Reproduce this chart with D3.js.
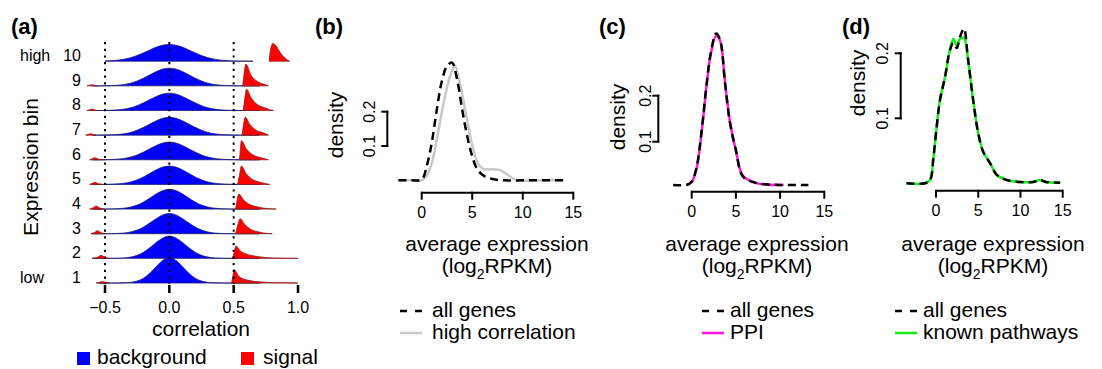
<!DOCTYPE html>
<html>
<head>
<meta charset="utf-8">
<script src="https://cdn.jsdelivr.net/npm/d3@7/dist/d3.min.js"></script>
<style>
    body { margin: 0; background: #fff; }
    text { font-family: "Liberation Sans", Arial, Helvetica, sans-serif; fill: #000; }
</style>
</head>
<body>
<svg id="chart" width="1102" height="369"></svg>
<script>
    // ---- panel (a): correlation densities per expression bin ----
    var expressionBins = [1, 2, 3, 4, 5, 6, 7, 8, 9, 10];
    var binEndLabels = ['low', 'high'];
    var corrTicks = [-0.5, 0, 0.5, 1.0];
    var corrTickLabels = ['\u22120.5', '0.0', '0.5', '1.0'];
    var corrGuides = [-0.5, 0, 0.5];

    // grid for background densities (-0.6 .. 0.7 by 0.05)
    var corrGrid = [-0.6, -0.55, -0.5, -0.45, -0.4, -0.35, -0.3, -0.25, -0.2, -0.15, -0.1, -0.05, 0,
        0.05, 0.1, 0.15, 0.2, 0.25, 0.3, 0.35, 0.4, 0.45, 0.5, 0.55, 0.6, 0.65, 0.7];

    var backgroundDensity = [
        [null, 0, 0, 0, 0, 0.02, 0.09, 0.28, 0.70, 1.43, 2.40, 3.27, 3.63, 3.27, 2.40, 1.43, 0.70, 0.28, 0.09, 0.02, 0, 0, 0, 0, 0, 0, 0],
        [0, 0, 0, 0, 0.02, 0.06, 0.18, 0.43, 0.89, 1.55, 2.32, 2.94, 3.21, 2.94, 2.32, 1.55, 0.89, 0.43, 0.18, 0.06, 0.02, 0, 0, 0, 0, 0, 0],
        [0, 0, 0, 0.01, 0.04, 0.10, 0.25, 0.52, 0.97, 1.57, 2.20, 2.71, 2.90, 2.71, 2.20, 1.57, 0.97, 0.52, 0.25, 0.10, 0.04, 0.01, 0, 0, 0, 0, 0],
        [0, 0, 0, 0.02, 0.05, 0.13, 0.29, 0.57, 1.02, 1.60, 2.20, 2.66, 2.84, 2.66, 2.20, 1.60, 1.02, 0.57, 0.29, 0.13, 0.05, 0.02, 0, 0, 0, 0, 0],
        [0, 0, 0.01, 0.03, 0.08, 0.18, 0.36, 0.66, 1.08, 1.60, 2.12, 2.50, 2.64, 2.50, 2.12, 1.60, 1.08, 0.66, 0.36, 0.18, 0.08, 0.03, 0.01, 0, 0, 0, 0],
        [0, 0, 0.01, 0.04, 0.09, 0.20, 0.39, 0.70, 1.11, 1.60, 2.07, 2.42, 2.55, 2.42, 2.07, 1.60, 1.11, 0.70, 0.39, 0.20, 0.09, 0.04, 0.01, 0, 0, 0, 0],
        [0, 0, 0.01, 0.04, 0.09, 0.20, 0.39, 0.71, 1.12, 1.61, 2.08, 2.43, 2.56, 2.43, 2.08, 1.61, 1.12, 0.71, 0.39, 0.20, 0.09, 0.04, 0.01, 0, 0, 0, 0],
        [0, 0, 0.01, 0.04, 0.09, 0.20, 0.39, 0.70, 1.10, 1.58, 2.03, 2.37, 2.50, 2.37, 2.03, 1.58, 1.10, 0.70, 0.39, 0.20, 0.09, 0.04, 0.01, 0, 0, 0, 0],
        [0, 0, 0.01, 0.04, 0.09, 0.20, 0.39, 0.70, 1.11, 1.60, 2.07, 2.42, 2.55, 2.42, 2.07, 1.60, 1.11, 0.70, 0.39, 0.20, 0.09, 0.04, 0.01, 0, 0, 0, 0],
        [null, null, 0.03, 0.07, 0.15, 0.29, 0.51, 0.82, 1.21, 1.63, 2.03, 2.31, 2.41, 2.31, 2.03, 1.63, 1.21, 0.82, 0.51, 0.29, 0.15, 0.07, 0.03, 0.01, 0, 0, null]
    ];

    // signal densities: small bump near -0.55 and the peak just above 0.5
    var signalBump = [
        [[-0.57, 0], [-0.545, 0.08], [-0.52, 0.2], [-0.495, 0.08], [-0.47, 0]],
        [[-0.6, 0], [-0.56, 0.15], [-0.53, 0.43], [-0.5, 0.15], [-0.47, 0]],
        [[-0.61, 0], [-0.58, 0.2], [-0.56, 0.43], [-0.53, 0.15], [-0.5, 0]],
        [[-0.62, 0], [-0.59, 0.2], [-0.57, 0.43], [-0.54, 0.15], [-0.51, 0]],
        [[-0.62, 0], [-0.6, 0.15], [-0.58, 0.3], [-0.55, 0.1], [-0.52, 0]],
        [[-0.62, 0], [-0.6, 0.15], [-0.58, 0.3], [-0.55, 0.1], [-0.52, 0]],
        [[-0.65, 0], [-0.63, 0.12], [-0.61, 0.2], [-0.59, 0.08], [-0.57, 0]],
        [[-0.64, 0], [-0.62, 0.12], [-0.6, 0.2], [-0.58, 0.08], [-0.56, 0]],
        [[-0.64, 0], [-0.62, 0.1], [-0.6, 0.15], [-0.58, 0.06], [-0.56, 0]],
        []
    ];
    var signalPeak = [
        [[0.484, 0], [0.494, 1.0], [0.504, 1.92], [0.54, 0.96], [0.58, 0.55], [0.62, 0.38], [0.67, 0.2], [0.72, 0.15], [0.8, 0.05], [0.9, 0.02], [1.0, 0]],
        [[0.49, 0], [0.505, 0.9], [0.517, 1.77], [0.55, 1.1], [0.6, 0.6], [0.65, 0.38], [0.7, 0.22], [0.75, 0.12], [0.8, 0.06], [0.9, 0.02], [1.0, 0]],
        [[0.515, 0], [0.53, 1.1], [0.55, 2.16], [0.585, 1.35], [0.63, 0.65], [0.68, 0.32], [0.73, 0.12], [0.8, 0]],
        [[0.515, 0], [0.525, 1.1], [0.54, 2.16], [0.575, 1.35], [0.625, 0.65], [0.68, 0.33], [0.73, 0.14], [0.78, 0.05], [0.83, 0]],
        [[0.53, 0], [0.545, 1.3], [0.56, 2.64], [0.595, 1.6], [0.646, 0.72], [0.70, 0.34], [0.75, 0.1], [0.78, 0]],
        [[0.545, 0], [0.552, 1.4], [0.56, 2.78], [0.595, 1.67], [0.645, 0.75], [0.70, 0.36], [0.75, 0.1], [0.77, 0]],
        [[0.565, 0], [0.575, 1.3], [0.59, 2.59], [0.625, 1.55], [0.675, 0.7], [0.73, 0.34], [0.77, 0]],
        [[0.575, 0], [0.585, 1.5], [0.6, 3.07], [0.635, 1.84], [0.685, 0.83], [0.74, 0.4], [0.78, 0.12], [0.81, 0]],
        [[0.57, 0], [0.58, 1.6], [0.595, 3.13], [0.633, 1.58], [0.685, 0.63], [0.736, 0.22], [0.77, 0]],
        [[0.775, 0], [0.79, 2.0], [0.805, 2.55], [0.83, 2.2], [0.86, 1.3], [0.89, 0.6], [0.92, 0.15], [0.935, 0]]
    ];

    // ---- panels (b)-(d): expression densities ----
    var exprTicks = [0, 5, 10, 15];
    var densityTicks = [0.1, 0.2];

    var allGenesB = [[-2.3, 0], [-1, 0], [0, 0.002], [0.5, 0.042], [1, 0.11], [1.5, 0.207], [2, 0.29], [2.5, 0.333],
        [3, 0.343], [3.5, 0.294], [4, 0.207], [4.5, 0.129], [5, 0.07], [5.5, 0.032], [6.2, 0.012], [7, 0.004],
        [8, 0], [10, 0], [12, 0], [14, 0]];
    var highCorrelation = [[-2.3, 0], [-1, 0], [0, 0], [0.5, 0.013], [1, 0.05], [1.5, 0.12], [2, 0.2], [2.5, 0.27],
        [3, 0.32], [3.3, 0.333], [3.6, 0.305], [4.1, 0.236], [4.6, 0.158], [5.1, 0.09], [5.6, 0.047], [6.1, 0.033],
        [7, 0.032], [7.75, 0.03], [8.4, 0.018], [9, 0.006], [9.5, 0], [12, 0], [14, 0]];

    var allGenesC = [[-2.1, 0.006], [-0.6, 0.006], [0, 0.013], [0.56, 0.045], [1.13, 0.125], [1.7, 0.227], [2.15, 0.292],
        [2.75, 0.335], [3.2, 0.322], [3.77, 0.227], [4.33, 0.141], [5, 0.082], [5.8, 0.024], [7.35, 0.01],
        [10, 0.006], [13.2, 0.006]];
    var ppiGenes = [[-0.6, 0.006], [0, 0.012], [0.56, 0.043], [1.13, 0.122], [1.7, 0.225], [2.15, 0.29], [2.75, 0.33],
        [3.2, 0.32], [3.77, 0.229], [4.33, 0.143], [5, 0.08], [5.8, 0.026], [7.35, 0.01], [10.4, 0.006]];

    var allGenesD = [[-3.5, 0], [-1.3, 0], [-0.7, 0.005], [-0.3, 0.04], [0.08, 0.087], [0.47, 0.128], [1.06, 0.163],
        [1.65, 0.205], [2.05, 0.216], [2.45, 0.208], [2.84, 0.225], [3.3, 0.238], [3.8, 0.19], [4.4, 0.128], [5, 0.077],
        [5.6, 0.048], [6.4, 0.031], [7.2, 0.013], [8.4, 0.005], [10, 0.002], [11.5, 0.002], [12.3, 0.005], [13, 0.002], [14.7, 0.001]];
    var knownPathways = [[-3.5, 0], [-1.3, 0], [-0.7, 0.005], [-0.3, 0.04], [0.08, 0.087], [0.47, 0.128], [1.06, 0.163],
        [1.65, 0.205], [2.05, 0.222], [2.45, 0.212], [2.84, 0.222], [3.3, 0.224], [3.8, 0.19], [4.4, 0.128], [5, 0.077],
        [5.6, 0.048], [6.4, 0.031], [7.2, 0.013], [8.4, 0.005], [10, 0.002], [11.5, 0.002], [12.3, 0.005], [13, 0.002], [14.7, 0.001]];

    var svg = d3.select('#chart');
    svg.append('rect').attr('width', 1102).attr('height', 369).attr('fill', '#fff');

    function panelTag(x, y, s) {
        svg.append('text').attr('x', x).attr('y', y)
            .style('font-size', '22px').style('font-weight', 'bold').text(s);
    }

    // ================= panel (a) =================
    panelTag(11, 34, '(a)');

    var xCorr = d3.scaleLinear().domain([-0.5, 1.0]).range([105, 298]);
    var yBin = d3.scaleLinear().domain([1, 10]).range([283, 61.2]);
    var hDens = d3.scaleLinear().domain([0, 3.6]).range([0, 25]);

    var ridges = svg.append('g').attr('class', 'ridges');

    // top rows first so lower rows sit in front
    expressionBins.slice().reverse().forEach(function(bin) {
        var i = bin - 1;
        var base = yBin(bin);
        var area = d3.area()
            .defined(function(d) { return d[1] != null; })
            .x(function(d) { return xCorr(d[0]); })
            .y0(base)
            .y1(function(d) { return base - hDens(d[1]); })
            .curve(d3.curveMonotoneX);

        var bg = corrGrid.map(function(x, k) { return [x, backgroundDensity[i][k]]; });
        ridges.append('path').attr('d', area(bg))
            .attr('fill', '#0000ff').attr('stroke', '#1a1a70').attr('stroke-width', 0.8);

        [signalBump[i], signalPeak[i]].forEach(function(seg) {
            if (!seg.length) return;
            ridges.append('path').attr('d', area(seg))
                .attr('fill', '#ff0000').attr('stroke', '#8a2020').attr('stroke-width', 0.8);
        });

        svg.append('text').attr('x', 81).attr('y', base)
            .attr('text-anchor', 'end').style('font-size', '16px').text(bin);
    });

    svg.append('text').attr('x', 20).attr('y', yBin(1)).style('font-size', '16px').text(binEndLabels[0]);
    svg.append('text').attr('x', 20).attr('y', yBin(10)).style('font-size', '16px').text(binEndLabels[1]);

    svg.append('text')
        .attr('transform', 'translate(38,167) rotate(-90)')
        .attr('text-anchor', 'middle').style('font-size', '21px')
        .text('Expression bin');

    // dotted guides
    svg.selectAll('line.guide').data(corrGuides).enter().append('line')
        .attr('class', 'guide')
        .attr('x1', function(d) { return xCorr(d); }).attr('x2', function(d) { return xCorr(d); })
        .attr('y1', 42).attr('y2', 284)
        .attr('stroke', '#000').attr('stroke-width', 2).attr('stroke-dasharray', '2.2,4.5');

    // tick marks only, no axis line
    svg.selectAll('line.ctick').data(corrTicks).enter().append('line')
        .attr('class', 'ctick')
        .attr('x1', function(d) { return xCorr(d); }).attr('x2', function(d) { return xCorr(d); })
        .attr('y1', 285).attr('y2', 293)
        .attr('stroke', '#000').attr('stroke-width', 2.5);
    svg.selectAll('text.clab').data(corrTicks).enter().append('text')
        .attr('class', 'clab')
        .attr('x', function(d) { return xCorr(d); }).attr('y', 313)
        .attr('text-anchor', 'middle').style('font-size', '16px')
        .text(function(d, k) { return corrTickLabels[k]; });

    svg.append('text').attr('x', 201).attr('y', 336)
        .attr('text-anchor', 'middle').style('font-size', '21px').text('correlation');

    svg.append('rect').attr('x', 77).attr('y', 352).attr('width', 13).attr('height', 13).attr('fill', '#0000ff');
    svg.append('text').attr('x', 97).attr('y', 364).style('font-size', '21px').text('background');
    svg.append('rect').attr('x', 241).attr('y', 352).attr('width', 13).attr('height', 13).attr('fill', '#ff0000');
    svg.append('text').attr('x', 263).attr('y', 364).style('font-size', '21px').text('signal');

    // ================= panels (b)-(d) =================
    function drawExprPanel(cfg) {
        panelTag(cfg.tagX, 34, cfg.tag);

        var x = d3.scaleLinear().domain([0, 15]).range(cfg.xRange);
        var y = d3.scaleLinear().domain([0.1, 0.2]).range(cfg.yRange);
        var g = svg.append('g');

        var line = d3.line()
            .x(function(d) { return x(d[0]); })
            .y(function(d) { return y(d[1]); })
            .curve(d3.curveCatmullRom);

        g.append('path').attr('d', line(cfg.other))
            .attr('fill', 'none').attr('stroke', cfg.color).attr('stroke-width', 2.5);
        g.append('path').attr('d', line(cfg.all))
            .attr('fill', 'none').attr('stroke', '#000').attr('stroke-width', 2.5)
            .attr('stroke-dasharray', '8,5');

        // x axis
        var xAxis = g.append('g').attr('transform', 'translate(0,' + cfg.axisY + ')');
        xAxis.append('line').attr('x1', x(0)).attr('x2', x(15)).attr('stroke', '#000').attr('stroke-width', 2);
        xAxis.selectAll('line.t').data(exprTicks).enter().append('line').attr('class', 't')
            .attr('x1', function(d) { return x(d); }).attr('x2', function(d) { return x(d); })
            .attr('y1', -1).attr('y2', 7).attr('stroke', '#000').attr('stroke-width', 2);
        xAxis.selectAll('text').data(exprTicks).enter().append('text')
            .attr('x', function(d) { return x(d); }).attr('y', 25)
            .attr('text-anchor', 'middle').style('font-size', '16px').text(function(d) { return d; });

        // y axis: short bracket for 0.1 .. 0.2
        var yAxis = g.append('g').attr('transform', 'translate(' + cfg.axisX + ',0)');
        yAxis.append('line').attr('y1', y(0.1) + 1).attr('y2', y(0.2) - 1).attr('stroke', '#000').attr('stroke-width', 2);
        yAxis.selectAll('line.t').data(densityTicks).enter().append('line').attr('class', 't')
            .attr('y1', function(d) { return y(d); }).attr('y2', function(d) { return y(d); })
            .attr('x1', 1).attr('x2', -6).attr('stroke', '#000').attr('stroke-width', 2);
        yAxis.selectAll('text').data(densityTicks).enter().append('text')
            .attr('transform', function(d) { return 'translate(' + (-cfg.tickGap) + ',' + y(d) + ') rotate(-90)'; })
            .attr('text-anchor', 'middle').style('font-size', '16px').text(function(d) { return d; });

        g.append('text')
            .attr('transform', 'translate(' + cfg.densX + ',' + cfg.densY + ') rotate(-90)')
            .attr('text-anchor', 'middle').style('font-size', '21px').text('density');

        // axis title
        g.append('text').attr('x', cfg.labelX).attr('y', 251)
            .attr('text-anchor', 'middle').style('font-size', '21px').text('average expression');
        var t2 = g.append('text').attr('x', cfg.labelX).attr('y', 273)
            .attr('text-anchor', 'middle').style('font-size', '21px');
        t2.append('tspan').text('(log');
        t2.append('tspan').attr('dy', 6).style('font-size', '14px').text('2');
        t2.append('tspan').attr('dy', -6).text('RPKM)');

        // legend
        var lg = g.append('g').attr('transform', 'translate(' + cfg.legX + ',0)');
        lg.append('line').attr('x1', 0).attr('x2', 22).attr('y1', 311).attr('y2', 311)
            .attr('stroke', '#000').attr('stroke-width', 2.5).attr('stroke-dasharray', '7,8');
        lg.append('text').attr('x', cfg.legText).attr('y', 317).style('font-size', '21px').text('all genes');
        lg.append('line').attr('x1', 0).attr('x2', 22).attr('y1', 333).attr('y2', 333)
            .attr('stroke', cfg.color).attr('stroke-width', 2.5);
        lg.append('text').attr('x', cfg.legText).attr('y', 339).style('font-size', '21px').text(cfg.name);
    }

    drawExprPanel({
        tag: '(b)', tagX: 315, all: allGenesB, other: highCorrelation, color: '#c8c8c8', name: 'high correlation',
        xRange: [421.7, 573.3], yRange: [146, 111.7], axisY: 192.7, axisX: 387.3, tickGap: 12,
        densX: 343, densY: 125, labelX: 497, legX: 400, legText: 32
    });
    drawExprPanel({
        tag: '(c)', tagX: 599, all: allGenesC, other: ppiGenes, color: '#ff14dc', name: 'PPI',
        xRange: [691.7, 824.3], yRange: [141.7, 95.7], axisY: 191.7, axisX: 658.3, tickGap: 7,
        densX: 625, densY: 117, labelX: 757, legX: 702, legText: 28
    });
    drawExprPanel({
        tag: '(d)', tagX: 842, all: allGenesD, other: knownPathways, color: '#14ee14', name: 'known pathways',
        xRange: [936, 1062.7], yRange: [118.3, 53.3], axisY: 190.7, axisX: 900.7, tickGap: 13,
        densX: 865, densY: 83, labelX: 993, legX: 895, legText: 28
    });
</script>
</body>
</html>
